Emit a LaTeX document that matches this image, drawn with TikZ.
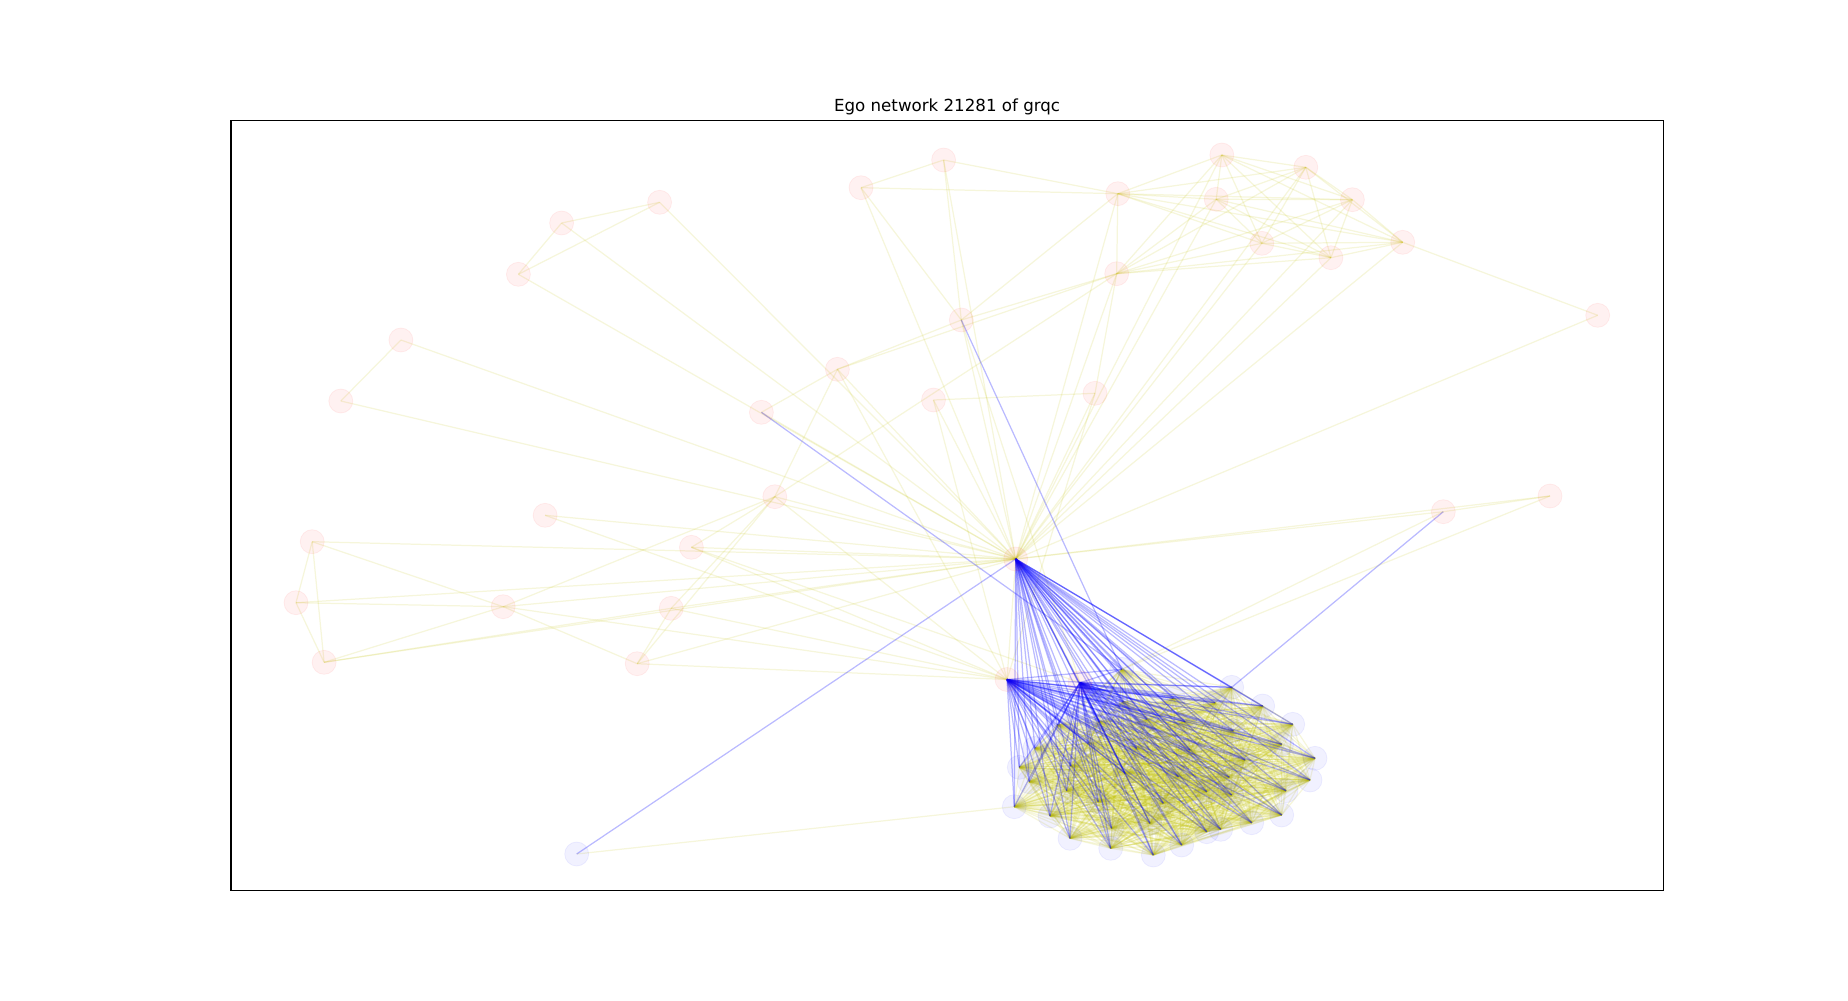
\documentclass[tikz,border=0pt]{standalone}
\usepackage{fontspec}
\setmainfont{DejaVu Sans}
\pgfdeclarelayer{edges}
\pgfsetlayers{edges,main}
\definecolor{mpy}{rgb}{0.75,0.75,0}
\definecolor{mpb}{rgb}{0,0,1}
\definecolor{mpr}{rgb}{1,0,0}
\tikzset{
  pnode/.style={circle,inner sep=0pt,minimum size=12pt,fill=mpr,fill opacity=0.055,draw=mpr,draw opacity=0.06,line width=0.4pt},
  bnode/.style={circle,inner sep=0pt,minimum size=12pt,fill=mpb,fill opacity=0.055,draw=mpb,draw opacity=0.06,line width=0.4pt},
  yedge/.style={draw=mpy,draw opacity=0.14,line width=0.62pt},
  bedge/.style={draw=mpb,draw opacity=0.27,line width=0.62pt},
  frame/.style={draw=black,line width=0.56pt},
  titletext/.style={font=\fontsize{8.33}{10}\selectfont,anchor=base,inner sep=0pt}
}
\begin{document}
\begin{tikzpicture}[x=0.5pt,y=-0.5pt]
\useasboundingbox (0,0) rectangle (1848,1001);
% pink nodes
\foreach \n/\x/\y in {ego/1015.7/559, h1/1007/679.5, h2/1080/682.7,
  A/861/187.7, B/943.6/160, C/1117.8/193.7, D/1221.8/155, E/1305.8/167.3,
  F/1216.2/199.3, G/1352.4/199.7, H/1261.8/243.3, I/1330.9/257.7, J/1402.7/242.3,
  K/1116.7/273.7, R/1597.7/315.3, L/961.3/320, M/1095/393.3, N/933.5/400,
  P1/659.6/202.3, P2/561.6/223, P3/518.4/274.3, P4/400.9/340, P5/340.8/401,
  P6/761.4/412.3, P7/837.4/369.3,
  Q1/774.8/496.7, Q2/545.1/515.3, Q3/312.2/541.7, Q4/691.4/547.3, Q5/296/602.7,
  Q6/503.2/606.7, Q7/671.2/608.3, Q8/324.1/662.3, Q9/637.2/663.7,
  S1/1443.3/511.7, S2/1550/496}
  {\node[pnode] (\n) at (\x,\y) {};}
% blue nodes
\foreach \x/\y [count=\i] in {1121.7/669.3, 1231.7/687.3, 1262.7/706, 1292.7/724.3,
  1315/758.3, 1310/780, 1286/790.7, 1281.7/815, 1251.7/822.7, 1220.7/829.3,
  1206.7/831.7, 1181.7/845, 1153.3/855, 1110.7/848.3, 1070/838.3, 1050/816,
  1014.3/806.7, 1029.3/781.7, 1019.3/767.3, 1035/748.3, 1057.3/725, 1070.7/766,
  1088.3/743.3, 1099.3/721.7, 1123.3/701.7, 1146.7/719.3, 1173.3/698.3, 1185/721.7,
  1215/702.7, 1233.3/730.7, 1281.7/744.3, 1245/760, 1229.3/777.3, 1231.7/795,
  1190/750, 1178.3/776.7, 1163.3/803.3, 1136.7/748.3, 1125/773.3, 1098.3/801.7,
  1066.7/790.7, 1111.7/828.3, 1150/823.3, 1206.7/791.7}
  {\node[bnode] (c\i) at (\x,\y) {};}
\node[bnode] (Z) at (576.7,854) {};
% frame and title
\draw[frame] (231,120.1) rectangle (1663.2,890.9);
\node[titletext] (title) at (947.1,111.5) {Ego network 21281 of grqc};
\begin{pgfonlayer}{edges}
% olive edges: ego to every pink node
\foreach \n in {h1,h2,A,B,C,D,E,F,G,H,I,J,K,R,L,M,N,P1,P2,P3,P4,P5,P6,P7,
  Q1,Q2,Q3,Q4,Q5,Q6,Q7,Q8,Q9,S1,S2}
  {\draw[yedge] (ego.center) -- (\n.center);}
% top right clique
\foreach \u [count=\ui] in {C,D,E,F,G,H,I,J,K}{
  \foreach \v [count=\vi] in {C,D,E,F,G,H,I,J,K}{
    \ifnum\vi>\ui \draw[yedge] (\u.center) -- (\v.center); \fi}}
% other pink edges
\foreach \a/\b in {A/B, A/C, B/C, A/L, B/L, C/L, K/L, K/P7, L/P7, K/M, M/N, J/R,
  P1/P2, P2/P3, P1/P3, P4/P5, P6/P7, P7/Q1, Q3/Q5, Q3/Q8, Q5/Q8, Q3/Q6, Q5/Q6,
  Q8/Q6, Q6/Q1, Q6/Q9, Q8/Q7, Q1/Q4, Q7/Q1, Q9/Q7, Q9/Q1, Q1/K, S1/S2, S1/c1, S2/c1,
  h1/Q1, h1/Q2, h1/Q4, h1/Q6, h1/Q7, h1/Q9, h1/N, h1/M, h1/P7, h2/Q4, h2/L, Z/c17}
  {\draw[yedge] (\a.center) -- (\b.center);}
% blue cluster clique (olive)
\foreach \i in {1,...,43}{
  \pgfmathtruncatemacro\s{\i+1}
  \foreach \j in {\s,...,44}{\draw[yedge] (c\i.center) -- (c\j.center);}}
% blue edges
\foreach \i in {1,...,44}{
  \draw[bedge] (ego.center) -- (c\i.center);
  \draw[bedge] (h1.center) -- (c\i.center);
  \draw[bedge] (h2.center) -- (c\i.center);}
\foreach \a/\b in {L/c1, P6/c1, S1/c2, Z/ego}
  {\draw[bedge] (\a.center) -- (\b.center);}
\end{pgfonlayer}
\end{tikzpicture}
\end{document}
